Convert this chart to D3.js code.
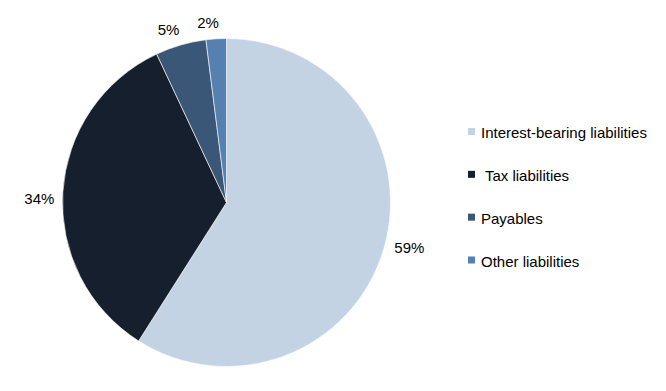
<!DOCTYPE html>
<html>
<head>
<meta charset="utf-8">
<script src="https://cdn.jsdelivr.net/npm/d3@7/dist/d3.min.js"></script>
<style>
  html, body { margin: 0; padding: 0; background: #ffffff; }
  svg { display: block; font-family: "Liberation Sans", Arial, sans-serif; }
</style>
</head>
<body>
<svg id="chart" width="666" height="391"></svg>
<script>
const categories = ["Interest-bearing liabilities", " Tax liabilities", "Payables", "Other liabilities"];
const values = [59, 34, 5, 2];
const labels = ["59%", "34%", "5%", "2%"];
const colors = ["#c3d3e4", "#151f2d", "#3a5778", "#5580b0"];

const svg = d3.select("#chart");
const cx = 226.5, cy = 202.5, r = 164;

const data = categories.map((c, i) => ({ name: c, value: values[i], label: labels[i], color: colors[i] }));

const pie = d3.pie().value(d => d.value).sort(null);
const arcs = pie(data);
const arcGen = d3.arc().innerRadius(0).outerRadius(r);

const g = svg.append("g").attr("transform", `translate(${cx},${cy})`);

g.selectAll("path.slice")
  .data(arcs)
  .enter().append("path")
  .attr("class", "slice")
  .attr("d", arcGen)
  .attr("fill", d => d.data.color)
  .attr("stroke", "#ffffff")
  .attr("stroke-width", 0.6);

// data labels placed just outside the pie, offset by half their box extent
const fontSize = 15;
g.selectAll("text.lbl")
  .data(arcs)
  .enter().append("text")
  .attr("class", "lbl")
  .attr("font-size", fontSize)
  .attr("fill", "#000")
  .attr("text-anchor", "middle")
  .attr("dominant-baseline", "central")
  .text(d => d.data.label)
  .each(function(d) {
    const a = (d.startAngle + d.endAngle) / 2 - 0.04;
    const dx = Math.sin(a), dy = -Math.cos(a);
    const w = this.getComputedTextLength();
    const halfExt = Math.abs(dx) * w / 2 + Math.abs(dy) * 7.5;
    const rr = r + 8 + halfExt;
    d3.select(this).attr("x", dx * rr).attr("y", dy * rr);
  });

// legend
const legend = svg.append("g");
const legendY = d3.scalePoint().domain(categories).range([138, 266.5]);
const items = legend.selectAll("g.item")
  .data(data)
  .enter().append("g")
  .attr("class", "item")
  .attr("transform", d => `translate(0,${legendY(d.name)})`);

items.append("rect")
  .attr("x", 468)
  .attr("y", -10)
  .attr("width", 7)
  .attr("height", 7)
  .attr("fill", d => d.color);

items.append("text")
  .attr("x", 481)
  .attr("y", 0)
  .attr("font-size", fontSize)
  .attr("fill", "#000")
  .attr("xml:space", "preserve")
  .style("white-space", "pre")
  .text(d => d.name);
</script>
</body>
</html>
